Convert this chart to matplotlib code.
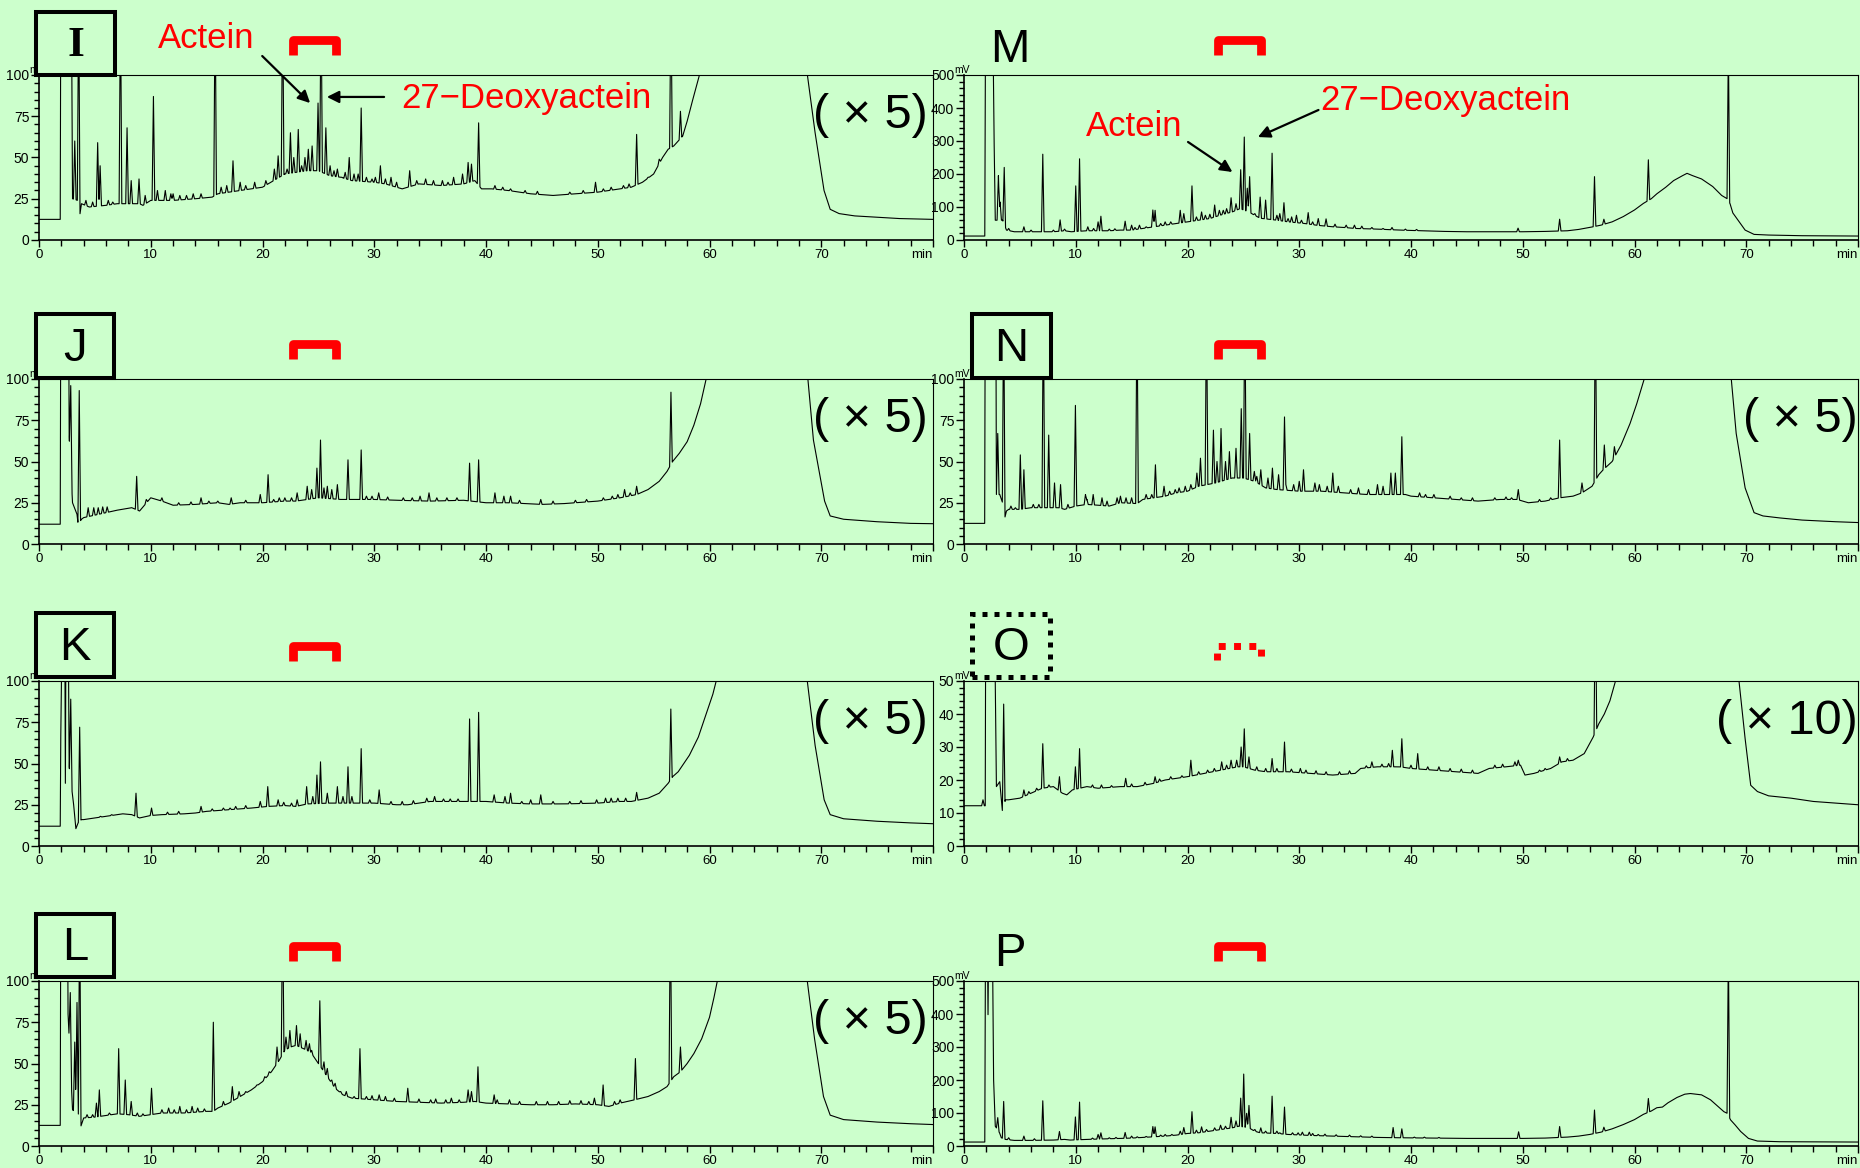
import numpy as np
import matplotlib
matplotlib.use('Agg')
import matplotlib.pyplot as plt
import matplotlib.transforms as mtransforms
from matplotlib.patches import Rectangle
from matplotlib.ticker import MultipleLocator

W, H = 1860, 1168
BG = '#ccffcc'
RED = '#ff0000'
NARROW = ['Liberation Sans Narrow', 'Liberation Sans', 'DejaVu Sans']
SANS = ['Liberation Sans', 'DejaVu Sans']
plt.rcParams['font.family'] = NARROW

########## chromatogram data: baseline knots (min, mV), main peaks and small peaks (min, mV) ##########

I_base_t = [0, 1.9, 1.95, 2.9, 3.0, 3.45, 3.65, 3.8, 4.5, 6, 7, 9, 9.3, 10, 12, 14, 15.5, 16, 18, 20, 21, 22,
            24, 25, 26, 27, 28, 30, 31, 32.5, 34, 36, 38, 39, 39.6, 40.5, 42, 44, 46, 48, 50, 51, 52, 53, 54,
            55, 55.8, 56.3, 56.8, 57.6, 58, 58.5, 59.1, 60, 68, 68.76, 69.45, 70.25, 70.8, 71.6, 73, 75, 77, 80]
I_base_v = [12.5, 12.5, 150, 150, 25, 24, 15, 22, 20, 21, 22, 22, 21, 24, 24, 25, 26, 28, 30, 32, 36, 40,
            42, 42, 39, 38, 36, 35, 34, 31, 34, 33, 34, 36, 31, 31, 30, 28, 27, 28, 29, 30, 31, 32, 35,
            40, 50, 55, 57, 63, 72, 85, 100, 160, 160, 100, 65, 30, 18.6, 16, 14.6, 13.8, 13, 12.5]
I_peak_t = [3.2, 3.55, 5.25, 5.47, 7.29, 7.88, 8.25, 8.95, 10.24, 10.6, 11.3, 12.0, 12.6, 15.76, 17.36, 18.0,
            19.3, 21.06, 21.4, 21.8, 22.2, 22.5, 22.8, 23.2, 23.5, 23.8, 24.1, 24.44, 24.97, 25.24, 25.67,
            26.05, 26.7, 27.1, 27.76, 28.19, 28.56, 28.83, 29.8, 30.55, 31.5, 33.17, 34.6, 36.1, 37.1, 37.9,
            38.4, 38.7, 39.34, 40.8, 42.2, 49.8, 52.3, 53.48, 55.5, 56.55, 57.4]
I_peak_v = [60, 150, 59, 45, 150, 68, 36, 37, 87, 30, 30, 28, 27, 150, 48, 35,
            35, 43, 51, 150, 43, 65, 50, 67, 45, 50, 55, 57, 83, 150, 68,
            45, 43, 38, 50, 40, 40, 80, 37, 45, 38, 42, 37, 36, 38, 40,
            47, 46, 71, 33, 31, 35, 33, 64, 49, 150, 78]
I_small_t = [4.2, 4.8, 6.2, 6.6, 9.5, 11.8, 13.2, 13.8, 14.5, 16.3, 16.8, 18.5, 20.3, 26.4, 27.4, 29.3, 30.1,
             31.0, 32.0, 33.8, 35.3, 36.6, 41.5, 43.5, 44.6, 47.5, 48.7, 50.5, 51.2, 52.8, 54.5]
I_small_v = [24, 23, 24, 23, 27, 28, 27, 28, 28, 32, 33, 33, 36, 42, 41, 38, 38,
             37, 35, 36, 36, 35, 32, 30, 29.5, 29, 30, 31, 32, 34, 38]

J_base_t = [0, 1.9, 1.95, 2.65, 2.7, 3.0, 3.4, 3.5, 3.8, 4, 5, 6, 7, 8.3, 9, 10, 11, 12, 14, 16, 17, 18, 20,
            22, 23, 24, 25, 27, 30, 32, 35, 38, 40, 42, 45, 47, 50, 52, 53.5, 54.5, 55.5, 56.2, 56.7, 57.3,
            58, 58.6, 59.2, 59.7, 60.5, 68, 68.8, 69.3, 70.3, 70.8, 72, 75, 78, 80]
J_base_v = [12, 12, 150, 150, 65, 25, 18, 12, 15, 16, 17.5, 19, 20.5, 22, 20, 28, 26, 23.5, 24, 25, 24, 25, 25,
            26, 26, 27, 28, 27, 27, 26.5, 26, 26.5, 25, 25, 24, 24.5, 26, 28, 30, 33, 38, 44, 50, 55,
            62, 72, 85, 100, 160, 160, 100, 63, 26, 17, 15, 13.5, 12.5, 12.3]
J_peak_t = [2.84, 3.6, 4.4, 4.9, 5.3, 5.7, 6.1, 8.74, 11.0, 14.5, 17.2, 19.8, 20.5, 21.5, 23.1, 24.0, 24.4,
            24.87, 25.19, 25.5, 25.8, 26.2, 26.7, 27.65, 28.83, 29.8, 30.4, 34.1, 34.9, 38.53, 39.34, 40.8,
            41.6, 42.2, 44.9, 52.4, 53.48, 56.55]
J_peak_v = [96, 93, 22, 22, 22, 22.5, 22.5, 41, 28, 28, 28, 30, 42, 28, 31, 35, 33,
            46, 63, 34, 35, 33, 36, 51, 57, 29, 31, 29, 31, 49, 51, 31,
            29, 29, 27, 33, 35, 92]
J_small_t = [9.6, 12.5, 13.6, 15.2, 16.0, 18.5, 21.0, 22.0, 22.6, 29.3, 31.2, 32.6, 33.4, 35.6, 36.5, 37.4,
             43.0, 46.0, 48.0, 49.0, 50.5, 51.3, 51.8, 52.9]
J_small_v = [27, 25, 25.5, 26, 26, 26.5, 27, 28, 28, 29, 28.5, 28, 28, 28, 28, 28,
             26.5, 26, 26.5, 27, 28, 29, 30, 31]

K_base_t = [0, 1.9, 1.95, 2.1, 2.3, 2.36, 2.42, 2.6, 2.7, 3.1, 3.3, 3.5, 3.8, 4, 5, 6, 7.5, 8.3, 9, 10, 11,
            13, 14, 15, 17, 19, 20.5, 22, 23, 24, 26, 28, 30, 32, 33, 34, 35, 38, 40, 42, 44, 47, 50, 52,
            53, 54.5, 55.5, 56.3, 56.7, 57.2, 57.5, 58.2, 59, 59.7, 60.3, 60.6, 61.5, 68, 68.75, 69.45,
            70.26, 70.8, 72, 75, 78, 80]
K_base_v = [12, 12, 67, 150, 150, 38, 150, 150, 48, 25, 10.5, 14, 16, 16, 17, 18, 19.5, 19, 17, 18.5, 19,
            19.5, 20, 21, 22, 23, 24, 24.5, 24, 25.5, 26, 26, 26, 25, 25, 26, 27, 27, 27, 26, 25.5, 25.5, 26, 27,
            27, 29, 32, 38, 42, 45, 48, 55, 66, 80, 92, 100, 160, 160, 100, 61,
            28, 19, 16.5, 15, 14, 13.5]
K_peak_t = [2.84, 3.64, 8.68, 10.07, 14.5, 17.1, 19.8, 20.47, 21.4, 23.1, 23.95, 24.5, 24.87, 25.19, 25.8,
            26.7, 27.2, 27.65, 28.0, 28.83, 30.44, 34.7, 35.4, 38.53, 39.34, 40.73, 41.7, 42.2, 44.0, 44.9,
            49.9, 50.7, 53.48, 56.54]
K_peak_v = [89, 72, 32, 23, 24, 23, 27, 36, 28, 28, 36, 30, 43, 51, 32,
            36, 30, 48, 30, 59, 34, 29, 30, 77, 81, 31, 30, 32, 28, 31,
            28, 29, 32.5, 83]
K_small_t = [5.5, 6.5, 11.5, 12.5, 15.5, 16.5, 17.6, 18.5, 21.9, 22.6, 29.6, 31.5, 32.5, 33.5, 36.2, 36.8,
             37.5, 43.2, 46.0, 47.5, 48.5, 51.2, 51.8, 52.5]
K_small_v = [18, 19, 20.5, 21, 22.5, 23, 24, 24.5, 26.5, 26, 28, 27, 27, 27.5, 28.5, 28.5,
             28.5, 27, 27, 27, 27.5, 29, 29, 29]

L_base_t = [0, 1.9, 1.95, 2.55, 2.6, 3.0, 3.3, 3.5, 3.75, 4, 5, 6, 7, 8, 9, 10, 11, 13, 15, 15.6, 16, 17, 18,
            19, 20, 20.8, 21.5, 22, 22.5, 23, 24, 24.5, 25, 25.5, 26, 26.5, 27.2, 28, 30, 32, 34, 36, 38,
            39, 40, 42, 44, 46, 48, 50, 51, 52, 53.3, 54.5, 55.5, 56.2, 56.8, 57.4, 58, 58.6, 59.3, 60,
            60.4, 60.7, 61.5, 68, 68.75, 69.4, 70.2, 70.8, 72, 75, 78, 80]
L_base_v = [12.5, 12.5, 150, 150, 80, 22, 20, 20, 12, 17, 17.5, 18.5, 19.5, 19, 18, 19, 20, 20, 21, 21, 23, 26, 30,
            34, 39, 45, 52, 58, 60, 61, 58, 55, 50, 45, 40, 35, 31, 29, 28, 27, 26.5, 26, 26.5,
            27, 26, 25.5, 25, 25, 25.5, 25, 24, 26, 28, 30, 33, 36, 42, 45, 50, 56, 65, 78,
            90, 100, 160, 160, 100, 65, 30, 18.7, 16, 14.5, 13.5, 13]
L_peak_t = [2.8, 3.2, 3.4, 3.64, 5.14, 5.4, 7.13, 7.72, 8.25, 10.07, 11.6, 12.6, 13.7, 15.6, 17.3, 17.9,
            21.3, 21.8, 22.1, 22.45, 23.04, 23.37, 23.9, 24.2, 24.4, 25.13, 25.5, 25.8, 26.5, 27.5, 28.2,
            28.72, 30.44, 33.0, 35.05, 36.9, 38.4, 38.7, 39.28, 40.73, 42.1, 49.7, 50.48, 53.37, 56.5, 57.4]
L_peak_v = [93, 63, 87, 150, 26, 34, 59, 40, 27, 35, 23, 24, 24, 75, 36, 33,
            60, 150, 66, 70, 73, 68, 64, 62, 58, 88, 51, 47, 38, 33, 30,
            59, 31, 35, 28, 29, 34, 33, 48, 31, 28, 29, 37, 53, 150, 60]
L_small_t = [4.3, 4.8, 6.3, 8.8, 9.3, 11.0, 12.1, 13.2, 14.2, 14.8, 16.5, 18.5, 19.5, 20.2, 20.6, 26.2, 27.0,
             29.3, 29.8, 31.0, 31.8, 34.0, 35.5, 36.4, 37.6, 41.0, 43.0, 44.5, 45.5, 46.5, 47.5, 48.5, 49.2,
             51.5, 52.0]
L_small_v = [19, 19, 20, 20, 19.5, 22, 22, 22, 23, 22.5, 27, 33, 37, 42, 45, 40, 33,
             30, 30.5, 30, 29, 28.5, 28.5, 28, 28, 28, 27, 27, 27, 27, 27.5, 27.5, 27,
             27, 28]

M_base_t = [0, 1.86, 1.92, 2.6, 2.7, 2.8, 3.2, 3.45, 3.8, 4.5, 6, 8, 9, 9.6, 11, 13, 14, 15, 16, 17, 18, 19,
            20, 21, 22, 23, 24, 24.7, 25.5, 26, 26.5, 28, 29, 30.5, 31.5, 33, 34, 35, 37, 39, 41, 43, 45,
            50, 52, 54, 55, 56, 57, 58, 59, 60, 60.8, 61.5, 62, 62.8, 63.5, 64.3, 64.7, 65.2, 66, 67, 67.8,
            68.3, 68.55, 68.8, 69.35, 69.9, 70.7, 72, 75, 80]
M_base_v = [12, 12, 600, 600, 288, 60, 60, 60, 30, 25, 25, 25, 28, 25, 28, 28, 30, 30, 35, 40, 45, 50,
            55, 60, 65, 76, 85, 95, 85, 75, 66, 60, 55, 50, 45, 40, 38, 35, 33, 30, 28, 26, 25,
            25, 26, 28, 32, 38, 45, 55, 71, 91, 111, 125, 140, 160, 180, 195, 202, 195, 185, 162, 135,
            125, 110, 82, 56, 30, 17, 15, 13, 12]
M_peak_t = [3.08, 3.23, 3.6, 5.36, 7.05, 8.6, 10.0, 10.34, 11.08, 12.0, 12.25, 14.42, 15.0, 15.7, 16.9, 17.1,
            18.0, 19.35, 19.67, 20.4, 21.26, 22.0, 22.43, 22.85, 23.2, 23.9, 24.34, 24.76, 25.08, 25.35,
            25.56, 26.03, 26.5, 26.99, 27.57, 28.26, 28.63, 29.32, 29.75, 30.8, 31.7, 32.4, 34.94, 36.5,
            38.3, 49.58, 53.3, 56.42, 57.26, 61.24, 68.4]
M_peak_v = [195, 115, 220, 40, 260, 61, 164, 246, 40, 55, 72, 57, 45, 45, 91, 90,
            55, 90, 80, 164, 85, 78, 106, 90, 90, 128, 110, 213, 312, 157,
            192, 80, 130, 121, 263, 80, 113, 70, 75, 83, 65, 64, 45, 38,
            38, 36, 63, 192, 63, 243, 600]
M_small_t = [4.0, 6.0, 8.0, 9.0, 11.6, 13.0, 13.5, 15.3, 16.3, 17.6, 18.5, 20.8, 21.6, 23.5, 28.0, 29.0,
             30.2, 31.2, 33.2, 34.2, 35.6, 37.5, 39.5, 40.5]
M_small_v = [35, 30, 30, 33, 35, 33, 34, 38, 40, 50, 55, 70, 75, 95, 75, 65,
             60, 55, 48, 45, 42, 35, 33, 32]

N_base_t = [0, 1.85, 1.9, 2.85, 2.9, 3.2, 3.45, 3.62, 3.8, 4, 5, 6, 7, 8.5, 9, 10, 11, 13, 14, 15.5, 16, 17,
            18, 19, 20, 21, 22.5, 24, 25, 26, 27, 28, 30, 32, 34, 36, 38, 39.5, 40, 42, 44, 46, 48, 49.5,
            50.5, 52, 53.3, 54.5, 55.3, 56.2, 56.8, 57.2, 58, 58.8, 59.6, 60.2, 60.87, 61.7, 68, 68.66,
            69.1, 69.9, 70.7, 71.5, 73, 75, 78, 80]
N_base_v = [12.5, 12.5, 150, 150, 30, 30, 25, 15, 20, 21, 21, 22, 22, 22, 21, 23, 24, 23, 25, 24.5, 27, 28,
            29, 31, 32, 35, 37, 40, 40, 38, 34, 33, 32, 32, 31, 30, 30, 30, 29, 28, 27, 26, 27, 27,
            25, 26, 28, 29, 31, 35, 42, 45, 50, 60, 73, 85, 100, 160, 160, 100,
            67, 34, 19, 17, 15.8, 14.5, 13.5, 13]
N_peak_t = [3.02, 3.55, 5.04, 5.36, 7.1, 7.58, 8.1, 8.64, 9.97, 10.87, 11.56, 12.35, 13.7, 14.5, 15.48,
            17.13, 17.9, 19.25, 20.84, 21.16, 21.7, 22.32, 22.64, 23.0, 23.4, 23.75, 24.34, 24.81, 25.13,
            25.56, 25.98, 26.56, 27.6, 28.15, 28.68, 30.38, 31.4, 33.0, 34.6, 37.0, 38.2, 38.6, 39.18,
            40.77, 42.05, 49.6, 53.3, 55.3, 56.5, 57.3, 58.2]
N_peak_v = [67, 150, 54, 45, 150, 66, 37, 36, 84, 30, 30, 28, 28, 28, 150,
            48, 35, 34, 43, 52, 150, 69, 50, 70, 50, 56, 58, 82, 150,
            67, 44, 45, 46, 42, 77, 45, 37, 43, 33, 36, 43, 43, 65,
            31, 30, 33, 63, 37, 150, 60, 59]
N_small_t = [4.2, 4.6, 6.2, 6.7, 9.3, 11.0, 12.8, 14.0, 15.0, 16.3, 16.8, 18.4, 18.9, 19.8, 20.3, 26.2, 27.2,
             28.8, 29.5, 30.0, 31.8, 32.5, 33.5, 35.3, 36.2, 37.5, 41.3, 43.5, 44.5, 45.5, 47.5, 48.5, 49.0,
             51.5, 52.5]
N_small_v = [23, 22, 24, 24, 24, 27, 26, 29, 28, 30, 30, 32, 33, 35, 36, 41, 40,
             36, 36, 38, 36, 35, 35, 34, 33, 35, 30, 29, 28, 28, 28, 28.5, 28,
             27, 28]

O_base_t = [0, 1.9, 1.95, 2.7, 2.9, 3.2, 3.45, 3.7, 4, 5, 6, 7, 8, 8.8, 9.2, 9.7, 11, 12, 14, 15.5, 17, 18,
            20, 21.5, 23, 24.5, 25, 26, 27, 29, 31, 33, 35, 35.5, 37, 39, 40, 42, 44, 46, 47, 48.5, 49.8,
            50.2, 51, 52.5, 53.5, 54.5, 55.5, 56.3, 56.8, 57.3, 57.8, 58.3, 59, 68.5, 69.35, 69.9, 70.4,
            71, 72, 74, 76, 78, 80]
O_base_v = [12.2, 12.2, 80, 80, 18, 19.5, 10, 14, 14, 14.5, 16, 17.5, 18, 16, 15.5, 17, 18, 17.5, 18, 18, 19, 20,
            21, 22, 23, 24, 24, 23, 22.5, 22.5, 22, 21.5, 22, 23.5, 24, 24, 23.5, 23, 22.5, 22, 23.5, 24, 24.5,
            21.5, 22, 23.5, 25.5, 26, 28, 33, 37, 40, 44, 50, 80, 80, 50, 32.5, 18.4,
            16.5, 15.2, 14.5, 13.5, 13, 12.5]
O_peak_t = [1.7, 3.55, 5.36, 7.05, 8.54, 9.97, 10.34, 14.47, 17.1, 20.3, 23.06, 23.9, 24.4, 24.8, 25.08,
            25.5, 27.57, 28.68, 30.1, 36.5, 38.33, 39.18, 40.6, 49.6, 53.3, 56.5]
O_peak_v = [14, 43, 17, 31, 21, 24, 29.5, 20.5, 21, 26, 25.5, 26, 26, 30, 35.5,
            27, 26.5, 31.5, 23.5, 25.5, 29, 32.5, 28, 26, 27, 80]
O_small_t = [5.8, 6.5, 7.6, 11.5, 12.3, 13.2, 15.0, 16.2, 17.5, 18.5, 19.5, 21.0, 21.8, 22.4, 23.5, 26.2,
             27.0, 28.0, 29.3, 30.6, 31.5, 32.4, 33.6, 34.5, 36.0, 37.4, 38.0, 40.0, 41.5, 42.5, 43.5, 44.5,
             45.5, 47.5, 48.2, 49.3, 51.5, 52.0, 54.0]
O_small_v = [16.5, 17.5, 18.5, 18.5, 18.5, 18.3, 18.8, 19.3, 20.3, 21, 21.3, 22.5, 23, 23.5, 24.5, 24,
             23.5, 23.5, 23.3, 23, 22.8, 22.5, 22.5, 22.8, 24.3, 24.8, 25, 24.5, 24, 24, 23.5, 23.3,
             23, 24.5, 24.8, 25.5, 23, 23.5, 26.5]

P_base_t = [0, 1.86, 1.92, 2.1, 2.15, 2.2, 2.55, 2.65, 2.8, 3.18, 3.34, 3.7, 4.5, 6, 8, 9, 9.5, 11, 13, 15,
            17, 18, 19, 20, 21, 22, 23, 24, 24.6, 25.5, 26, 26.5, 28, 29, 31, 33, 35, 37, 39, 42, 45, 50,
            52, 54, 55, 56, 57, 58, 59, 60, 60.8, 61.5, 62, 62.5, 63, 63.8, 64.5, 65, 66, 66.8, 67.5, 68,
            68.3, 68.6, 69, 69.5, 70.2, 71, 73, 80]
P_base_v = [12, 12, 600, 600, 398, 600, 600, 200, 60, 40, 25, 20, 17, 17, 18, 20, 18, 20, 22, 24,
            28, 30, 33, 38, 40, 45, 50, 55, 60, 55, 45, 40, 38, 35, 32, 30, 28, 26, 25, 24, 23, 23,
            24, 27, 30, 35, 42, 52, 65, 80, 96, 106, 116, 118, 131, 147, 157, 159, 155, 140, 119, 104,
            99, 79, 64, 44, 23, 15, 13, 12]
P_peak_t = [3.02, 3.55, 5.36, 7.05, 8.54, 9.97, 10.34, 12.0, 12.25, 14.42, 15.0, 16.9, 17.1, 18.0, 19.35,
            19.67, 20.4, 21.26, 22.43, 22.96, 23.9, 24.34, 24.76, 25.03, 25.29, 25.5, 26.03, 26.56, 26.99,
            27.57, 28.26, 28.68, 30.28, 30.9, 31.7, 38.4, 39.18, 49.63, 53.3, 56.42, 57.26, 61.24, 68.4]
P_peak_v = [86, 135, 30, 137, 44, 88, 133, 35, 40, 41, 30, 59, 58, 35, 45,
            56, 104, 58, 55, 63, 87, 76, 145, 218, 99, 123, 50, 55, 45,
            151, 40, 118, 42, 42, 35, 56, 52, 43, 59, 109, 57, 144, 600]
P_small_t = [4.0, 6.3, 11.5, 13.0, 13.6, 15.5, 16.3, 17.6, 18.6, 20.8, 21.7, 23.4, 28.0, 29.4, 29.9, 31.2,
             32.3, 33.3, 34.5, 35.5, 36.5, 40.3, 41.2, 42.5]
P_small_v = [25, 22, 24, 25, 26, 28, 29, 33, 35, 48, 50, 60, 45, 40, 40, 38,
             36, 34, 33, 31, 30, 27, 27, 26]


def build_trace(base_t, base_v, peak_t, peak_v, w=0.12):
    # baseline knots joined by straight segments, every peak a narrow spike on top
    base_t = np.asarray(base_t, float)
    base_v = np.asarray(base_v, float)
    peak_t = np.asarray(peak_t, float)
    peak_v = np.asarray(peak_v, float)
    t = np.unique(np.concatenate([base_t, peak_t - w, peak_t, peak_t + w]))
    y = np.interp(t, base_t, base_v)
    for tp, vp in zip(peak_t, peak_v):
        h = vp - np.interp(tp, base_t, base_v)
        y = y + h * np.clip(1 - np.abs(t - tp) / w, 0, None)
    return t, y


##########Layout (pixels of the 1860x1168 picture)############

col_left = [39, 964]
col_width = [894, 894]
row_top = [75, 379, 681, 981]
ax_h = 165

# name, data, column, row, ymax, major, minor, box (x0, y0, x1, y1), box style, scale text
panels = [
    ('I', (I_base_t, I_base_v, I_peak_t + I_small_t, I_peak_v + I_small_v), 0, 0, 100, 25, 5,
     (36, 12, 115, 75), 'solid', '( × 5)'),
    ('J', (J_base_t, J_base_v, J_peak_t + J_small_t, J_peak_v + J_small_v), 0, 1, 100, 25, 5,
     (36, 314, 114, 378), 'solid', '( × 5)'),
    ('K', (K_base_t, K_base_v, K_peak_t + K_small_t, K_peak_v + K_small_v), 0, 2, 100, 25, 5,
     (36, 613, 114, 677), 'solid', '( × 5)'),
    ('L', (L_base_t, L_base_v, L_peak_t + L_small_t, L_peak_v + L_small_v), 0, 3, 100, 25, 5,
     (36, 914, 114, 977), 'solid', '( × 5)'),
    ('M', (M_base_t, M_base_v, M_peak_t + M_small_t, M_peak_v + M_small_v), 1, 0, 500, 100, 20,
     (971, 15, 1049, 78), None, None),
    ('N', (N_base_t, N_base_v, N_peak_t + N_small_t, N_peak_v + N_small_v), 1, 1, 100, 25, 5,
     (972, 314, 1051, 378), 'solid', '( × 5)'),
    ('O', (O_base_t, O_base_v, O_peak_t + O_small_t, O_peak_v + O_small_v), 1, 2, 50, 10, 2,
     (972, 614, 1050, 677), 'dotted', '( × 10)'),
    ('P', (P_base_t, P_base_v, P_peak_t + P_small_t, P_peak_v + P_small_v), 1, 3, 500, 100, 20,
     (971, 919, 1049, 982), None, None),
]

fig = plt.figure(figsize=(W / 100, H / 100), dpi=100, facecolor=BG)
axes = {}

for name, data, col, row, ymax, major, minor, box, box_style, scale_txt in panels:
    left = col_left[col] / W
    bottom = 1 - (row_top[row] + ax_h) / H
    ax = fig.add_axes([left, bottom, col_width[col] / W, ax_h / H])
    ax.set_facecolor(BG)
    axes[name] = ax

    t, y = build_trace(*data)
    ax.plot(t, y, color='black', lw=0.8)

    ax.set_xlim(0, 80)
    ax.set_ylim(0, ymax)
    ax.set_xticks(np.arange(0, 81, 10))
    ax.set_xticklabels([str(v) for v in range(0, 80, 10)] + ['min'])
    ax.get_xticklabels()[-1].set_ha('right')
    ax.xaxis.set_minor_locator(MultipleLocator(2))
    ax.set_yticks(np.arange(0, ymax + 1, major))
    ax.yaxis.set_minor_locator(MultipleLocator(minor))
    ax.tick_params(axis='x', which='major', length=5, width=1, pad=1.5, labelsize=9.5)
    ax.tick_params(axis='x', which='minor', length=4.5, width=1)
    ax.tick_params(axis='y', which='major', length=6, width=1, pad=1, labelsize=10)
    ax.tick_params(axis='y', which='minor', length=3.5, width=1)
    for s in ['left', 'bottom']:
        ax.spines[s].set_linewidth(1.2)
    for s in ['top', 'right']:
        ax.spines[s].set_linewidth(0.8)
    ax.text(-0.011, 1.0, 'mV', transform=ax.transAxes, ha='left', va='bottom', fontsize=7.5)

    # red bracket marking the actein region
    trans = mtransforms.blended_transform_factory(ax.transData, ax.transAxes)
    if name == 'O':
        ax.plot([22.6, 22.6, 26.6, 26.6], [1.13, 1.21, 1.21, 1.13], transform=trans, clip_on=False,
                color=RED, lw=5, linestyle=(0, (1, 1.2)), dash_capstyle='butt')
    else:
        ax.plot([22.7, 22.7, 26.6, 26.6], [1.12, 1.21, 1.21, 1.12], transform=trans, clip_on=False,
                color=RED, lw=6.3, solid_joinstyle='round', solid_capstyle='butt')

    if scale_txt:
        xpos = {0: 0.93, 1: 0.935}[col] if name != 'O' else 0.921
        ax.text(xpos, 0.757, scale_txt, transform=ax.transAxes, ha='center', va='center',
                fontsize=35, family=SANS)

    # sample letter, boxed or not
    x0, y0, x1, y1 = box
    if box_style:
        ls = '-' if box_style == 'solid' else (0, (1, 1.4))
        lw = 2.9 if box_style == 'solid' else 3.6
        rect = Rectangle((x0 / W, 1 - y1 / H), (x1 - x0) / W, (y1 - y0) / H, transform=fig.transFigure,
                         facecolor=BG, edgecolor='black', lw=lw, linestyle=ls, zorder=5)
        fig.add_artist(rect)
    cx, cy = (x0 + x1) / 2, (y0 + y1) / 2 + 3
    if name == 'I':
        fig.text(cx / W, 1 - cy / H, name, ha='center', va='center', fontsize=31, weight='bold',
                 family=['Liberation Serif', 'DejaVu Serif'], zorder=6)
    else:
        fig.text(cx / W, 1 - cy / H, name, ha='center', va='center', fontsize=34, zorder=6)

##########Annotations############

arrow = dict(arrowstyle='-|>', color='black', lw=1.6, mutation_scale=18, shrinkA=0, shrinkB=0)

ax = axes['I']
ax.text(0.187, 1.224, 'Actein', transform=ax.transAxes, ha='center', va='center', color=RED,
        fontsize=25, family=SANS)
ax.text(0.405, 0.855, '27−Deoxyactein', transform=ax.transAxes, ha='left', va='center', color=RED,
        fontsize=25, family=SANS)
ax.annotate('', xy=(24.26, 83), xycoords='data', xytext=(0.2497, 1.115), textcoords='axes fraction',
            arrowprops=arrow, annotation_clip=False)
ax.annotate('', xy=(25.76, 86.7), xycoords='data', xytext=(0.386, 0.867), textcoords='axes fraction',
            arrowprops=arrow, annotation_clip=False)

ax = axes['M']
ax.text(0.190, 0.685, 'Actein', transform=ax.transAxes, ha='center', va='center', color=RED,
        fontsize=25, family=SANS)
ax.text(0.399, 0.848, '27−Deoxyactein', transform=ax.transAxes, ha='left', va='center', color=RED,
        fontsize=25, family=SANS)
ax.annotate('', xy=(24.02, 206), xycoords='data', xytext=(0.2506, 0.594), textcoords='axes fraction',
            arrowprops=arrow, annotation_clip=False)
ax.annotate('', xy=(26.3, 312), xycoords='data', xytext=(0.3965, 0.788), textcoords='axes fraction',
            arrowprops=arrow, annotation_clip=False)

plt.savefig('out.png', dpi=100, facecolor=BG)
